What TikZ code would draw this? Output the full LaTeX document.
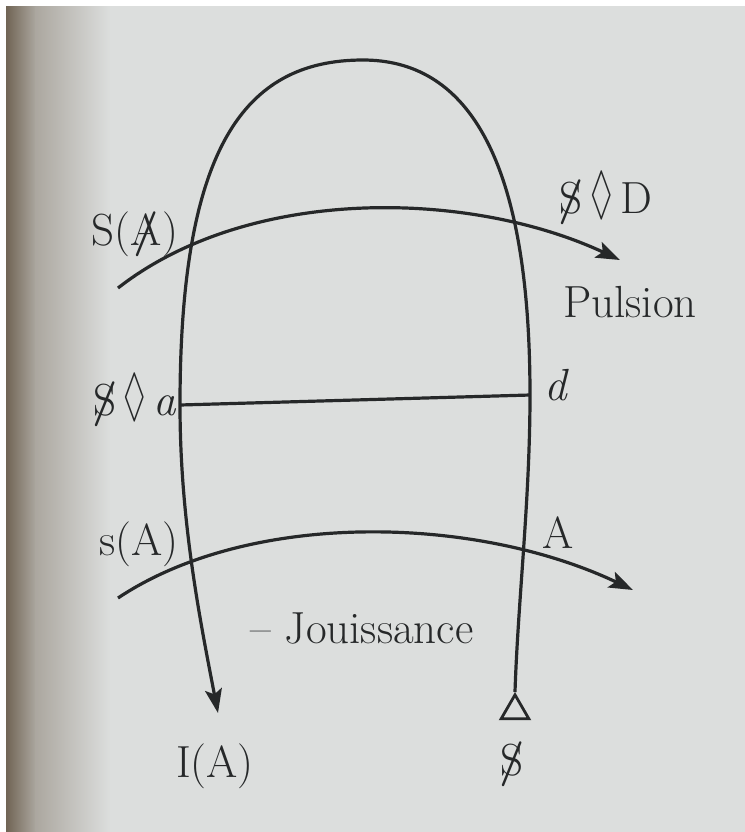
\documentclass[tikz,border=0pt]{standalone}
\usepackage{fontspec}
\usepackage{amssymb}
\usepackage{graphicx}
\usetikzlibrary{arrows.meta,shapes.geometric}
\definecolor{ink}{RGB}{38,40,41}
\definecolor{paper}{RGB}{220,222,221}
\definecolor{spine}{RGB}{112,100,84}
\newcommand\barred[1]{\ooalign{#1\cr\hidewidth\textbf{/}\hidewidth}}
\newcommand\poincon{\raisebox{0.05ex}{\scalebox{0.75}[1.3]{$\lozenge$}}}
\tikzset{
  graph line/.style={draw=ink,line width=1.6pt},
  graph arrow/.style={graph line,-{Stealth[length=12pt,width=8.5pt,inset=2.5pt]}},
  graph label/.style={font=\fontsize{22.5}{26}\selectfont,text=ink,inner sep=0pt,anchor=base},
  start mark/.style={regular polygon,regular polygon sides=3,draw=ink,line width=1.4pt,
    minimum size=16pt,inner sep=0pt,anchor=corner 1},
}
\begin{document}
\begin{tikzpicture}[x=0.5pt,y=-0.5pt]
  \useasboundingbox (0,0) rectangle (745,832);
  \fill[white] (0,0) rectangle (745,832);
  \fill[paper] (6,6) rectangle (745,832);
  \shade[left color=spine,right color=spine!45!paper] (6,6) rectangle (36,832);
  \shade[left color=spine!45!paper,right color=paper] (35.5,6) rectangle (110,832);

  \node[start mark] (tri) at (515,692) {};
  \coordinate (r mid) at (530,395);
  \coordinate (top) at (363,60);
  \coordinate (l mid) at (180,405);
  \coordinate (ia tip) at (218,713);
  \coordinate (up start) at (118,288);
  \coordinate (up end) at (620,260);
  \coordinate (low start) at (118,598);
  \coordinate (low end) at (633,590);

  \draw[graph arrow] (tri.corner 1) .. controls (518,600) and (530,500) .. (r mid)
    .. controls (530,150) and (463,60) .. (top)
    .. controls (243,60) and (180,150) .. (l mid)
    .. controls (180,520) and (200,620) .. (ia tip);
  \draw[graph arrow] (up start) .. controls (250,185) and (470,190) .. (up end);
  \draw[graph arrow] (low start) .. controls (250,510) and (475,515) .. (low end);
  \draw[graph line] (l mid) -- (r mid);

  \node[graph label] (signifier) at (135,245) {S(\barred{A})};
  \node[graph label] (drive) at (606,213) {\barred{S}\,\poincon\,D};
  \node[graph label] (pulsion) at (630,317) {Pulsion};
  \node[graph label] (fantasy) at (135,415) {\barred{S}\,\poincon\,\textit{a}};
  \node[graph label] (desire) at (557,400) {\textit{d}};
  \node[graph label] (message) at (139,555) {s(A)};
  \node[graph label] (other) at (558,548) {A};
  \node[graph label] (jouissance) at (362,643) {-- Jouissance};
  \node[graph label] (ideal) at (215,777) {I(A)};
  \node[graph label] (subject) at (512,775) {\barred{S}};
\end{tikzpicture}
\end{document}
